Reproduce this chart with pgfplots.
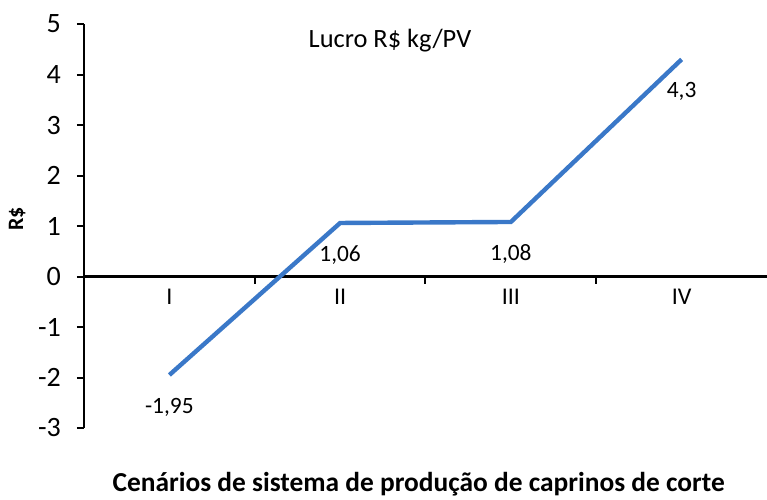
\documentclass[border=0pt]{standalone}
\usepackage{pgfplots}
\pgfplotsset{compat=1.18}
\usepackage{fontspec}
\setmainfont{Carlito}
\definecolor{linha}{RGB}{58,120,200}
\begin{document}
\begin{tikzpicture}
\begin{axis}[
    scale only axis,
    width=341.5pt, height=202pt,
    xmin=0.5, xmax=4.5,
    ymin=-3, ymax=5,
    axis x line=middle, axis y line=left,
    x axis line style={-, line width=1.1pt},
    y axis line style={-, line width=1.1pt},
    xtick={1.5,2.5,3.5}, xticklabels={},
    xtick align=outside,
    major tick length=3.5pt,
    tick style={black, line width=1pt},
    extra x ticks={1,2,3,4},
    extra x tick labels={I,II,III,IV},
    extra x tick style={major tick length=0pt, tick label style={font=\fontsize{12}{14}\selectfont, yshift=-3pt}},
    ytick={-3,-2,...,5},
    ytick align=outside,
    yticklabel style={font=\fontsize{14}{16}\selectfont, xshift=-4.5pt},
    /pgf/number format/assume math mode=true,
    xlabel={\bfseries Cenários de sistema de produção de caprinos de corte},
    xlabel style={at={(axis description cs:0.49,-0.138)}, anchor=center, font=\fontsize{13.7}{16}\selectfont},
    ylabel={\bfseries R\$},
    ylabel style={at={(axis description cs:-0.098,0.517)}, anchor=center, font=\fontsize{11}{13}\selectfont},
    title={Lucro R\$ kg/PV},
    title style={at={(axis description cs:0.448,0.93)}, anchor=center, font=\fontsize{13.2}{15}\selectfont},
    clip=false,
]
\addplot[color=linha, line width=2.2pt, mark=none,
    nodes near coords, point meta=explicit symbolic,
    every node near coord/.append style={anchor=center, yshift=-16pt, text=black, font=\fontsize{11.7}{13}\selectfont}]
    table[meta=lab] {
x y lab
1 -1.95 {-1,95}
2 1.06 {1,06}
3 1.08 {1,08}
4 4.3 {4,3}
};
\end{axis}
\pgfresetboundingbox
\path[use as bounding box] (-42pt,-35.5pt) rectangle (341.5pt,214pt);
\end{tikzpicture}
\end{document}
